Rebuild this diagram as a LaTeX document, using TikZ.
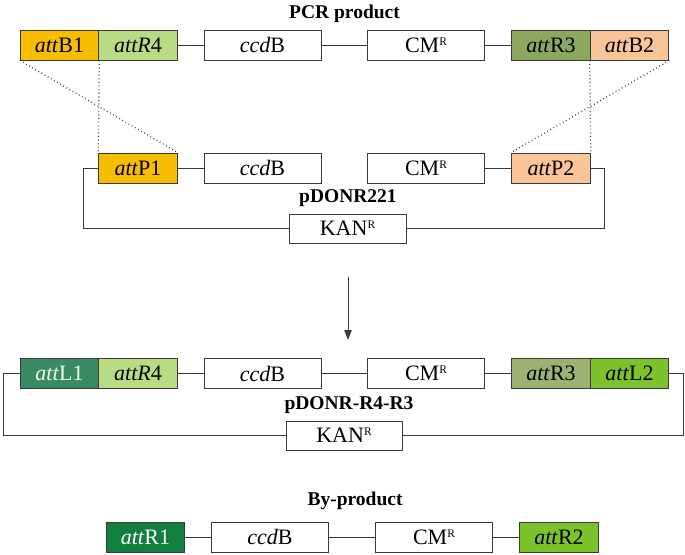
\documentclass[tikz,border=0pt]{standalone}
\usepackage{fontspec}
\setmainfont{Liberation Serif}
\usetikzlibrary{arrows.meta}
\definecolor{cgold}{HTML}{F7BE00}
\definecolor{clgreen}{HTML}{B8DC84}
\definecolor{colive}{HTML}{8CA85F}
\definecolor{colivel}{HTML}{9DB170}
\definecolor{cpeach}{HTML}{F9C598}
\definecolor{cteal}{HTML}{3A8A64}
\definecolor{cbright}{HTML}{7CC22B}
\definecolor{cdark}{HTML}{11803F}
\definecolor{cline}{HTML}{3A3A3A}
\newcommand{\supR}{\raisebox{0.72ex}{\fontsize{11.5}{11.5}\selectfont R}}
\tikzset{
  seg/.style={draw=cline, line width=1pt, inner sep=0pt, minimum height=30pt, font=\fontsize{22}{22}\selectfont},
  attbox/.style={seg, minimum width=78.5pt},
  genebox/.style={seg, minimum width=117pt, fill=white},
  title/.style={font=\bfseries\fontsize{19.5}{19.5}\selectfont, inner sep=0pt},
  conn/.style={draw=cline, line width=1pt},
  dots/.style={draw=cline, line width=1.3pt, dash pattern=on 0.8pt off 2.8pt},
}
\begin{document}
\begin{tikzpicture}[x=1pt, y=-1pt]
\useasboundingbox (0,0) rectangle (685,554);
% Row 1: PCR product
\node[title] (t1) at (344.5,14) {PCR product};
\node[attbox, fill=cgold] (b1) at (59.5,45) {\textit{att}B1};
\node[attbox, fill=clgreen] (r4a) at (138,45) {\textit{attR}4};
\node[genebox] (cc1) at (262.5,45) {\textit{ccd}B};
\node[genebox] (cm1) at (426,45) {CM\supR};
\node[attbox, fill=colive] (r3a) at (551,45) {\textit{att}R3};
\node[attbox, fill=cpeach] (b2) at (629.5,45) {\textit{att}B2};
\draw[conn] (r4a.east) -- (cc1.west);
\draw[conn] (cc1.east) -- (cm1.west);
\draw[conn] (cm1.east) -- (r3a.west);
% Row 2: pDONR221
\node[attbox, fill=cgold] (p1) at (138,168) {\textit{att}P1};
\node[genebox] (cc2) at (262.5,168) {\textit{ccd}B};
\node[genebox] (cm2) at (426,168) {CM\supR};
\node[attbox, fill=cpeach] (p2) at (551,168) {\textit{att}P2};
\node[title] (t2) at (348,198) {pDONR221};
\node[genebox, minimum height=29pt] (kan1) at (347.5,228.5) {KAN\supR};
\coordinate (l2a) at (83,168);
\coordinate (l2b) at (604,168);
\draw[conn] (p1.east) -- (cc2.west);
\draw[conn] (cm2.east) -- (p2.west);
\draw[conn] (p1.west) -- (l2a) |- (kan1.west);
\draw[conn] (kan1.east) -| (l2b) -- (p2.east);
% dotted recombination lines
\draw[dots] (b1.south west) -- (p1.north east);
\draw[dots] (b1.south east) -- (p1.north west);
\draw[dots] (b2.south west) -- (p2.north east);
\draw[dots] (b2.south east) -- (p2.north west);
% Arrow
\coordinate (a1) at (348,277);
\coordinate (a2) at (348,340);
\draw[conn, -{Triangle[length=10pt,width=7.5pt]}] (a1) -- (a2);
% Row 3: pDONR-R4-R3
\node[attbox, fill=cteal, text=white!92!green] (l1) at (59.5,373.5) {\textit{att}L1};
\node[attbox, fill=clgreen] (r4b) at (138,373.5) {\textit{attR}4};
\node[genebox] (cc3) at (262.5,373.5) {\textit{ccd}B};
\node[genebox] (cm3) at (426,373.5) {CM\supR};
\node[attbox, fill=colivel] (r3b) at (551,373.5) {\textit{att}R3};
\node[attbox, fill=cbright] (l2) at (629.5,373.5) {\textit{att}L2};
\node[title] (t3) at (349,405) {pDONR-R4-R3};
\node[genebox, minimum width=116pt, minimum height=29pt] (kan2) at (344,435.5) {KAN\supR};
\coordinate (l3a) at (3,373.5);
\coordinate (l3b) at (683,373.5);
\draw[conn] (r4b.east) -- (cc3.west);
\draw[conn] (cc3.east) -- (cm3.west);
\draw[conn] (cm3.east) -- (r3b.west);
\draw[conn] (l1.west) -- (l3a) |- (kan2.west);
\draw[conn] (kan2.east) -| (l3b) -- (l2.east);
% Row 4: By-product
\node[title] (t4) at (355,501) {By-product};
\node[attbox, fill=cdark, text=white] (rr1) at (145.5,537) {\textit{att}R1};
\node[genebox] (cc4) at (270,537) {\textit{ccd}B};
\node[genebox] (cm4) at (434,537) {CM\supR};
\node[attbox, fill=cbright] (rr2) at (559,537) {\textit{att}R2};
\draw[conn] (rr1.east) -- (cc4.west);
\draw[conn] (cc4.east) -- (cm4.west);
\draw[conn] (cm4.east) -- (rr2.west);
\end{tikzpicture}
\end{document}
